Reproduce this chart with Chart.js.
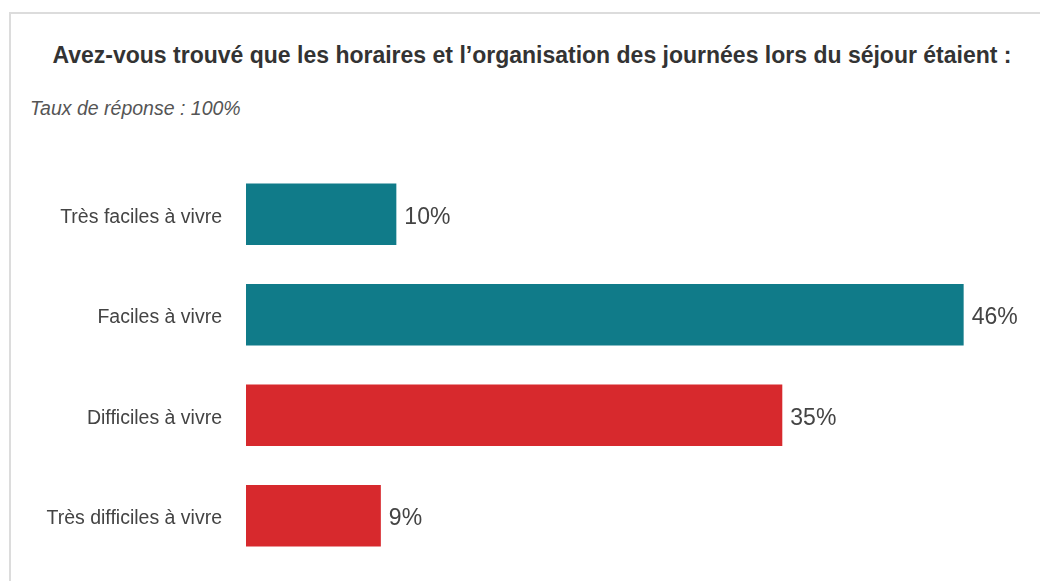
<!DOCTYPE html>
<html lang="fr">
<head>
<meta charset="utf-8">
<title>Horaires et organisation des journées</title>
<script src="https://cdn.jsdelivr.net/npm/chart.js@4/dist/chart.umd.min.js"></script>
<style>
  html, body { margin: 0; padding: 0; background: #fff; overflow: hidden; }
  body { width: 1040px; height: 581px; position: relative; font-family: "Liberation Sans", Arial, sans-serif; }
  .frame { position: absolute; left: 9px; top: 12px; width: 1100px; height: 640px; border: 2px solid #dcdcdc; box-sizing: border-box; }
  .title { position: absolute; left: 0; width: 1064px; top: 42px; text-align: center; font-weight: bold; font-size: 23px; color: #333; white-space: nowrap; }
  .subtitle { position: absolute; left: 30px; top: 97px; font-style: italic; font-size: 19.5px; color: #555; white-space: nowrap; }
  #chart { position: absolute; left: 0; top: 0; }
</style>
</head>
<body>
<div class="frame"></div>
<div class="title">Avez-vous trouvé que les horaires et l’organisation des journées lors du séjour étaient :</div>
<div class="subtitle">Taux de réponse : 100%</div>
<canvas id="chart" width="1040" height="581"></canvas>
<script>
  // réponses (part en %)
  var categories = ['Très faciles à vivre', 'Faciles à vivre', 'Difficiles à vivre', 'Très difficiles à vivre'];
  var values = [9.7, 46.3, 34.6, 8.7];
  var valueLabels = ['10%', '46%', '35%', '9%'];
  var barColors = ['#107b89', '#107b89', '#d7292d', '#d7292d'];

  var valueLabelPlugin = {
    id: 'valueLabels',
    afterDatasetsDraw: function (chart) {
      var ctx = chart.ctx;
      var meta = chart.getDatasetMeta(0);
      ctx.save();
      ctx.font = '23px "Liberation Sans", Arial, sans-serif';
      ctx.fillStyle = '#444';
      ctx.textAlign = 'left';
      ctx.textBaseline = 'middle';
      meta.data.forEach(function (bar, i) {
        ctx.fillText(valueLabels[i], bar.x + 8, bar.y + 3);
      });
      ctx.restore();
    }
  };

  new Chart(document.getElementById('chart'), {
    type: 'bar',
    data: {
      labels: categories,
      datasets: [{
        data: values,
        backgroundColor: barColors,
        borderWidth: 0,
        categoryPercentage: 1,
        barPercentage: 0.61
      }]
    },
    options: {
      indexAxis: 'y',
      responsive: false,
      animation: false,
      devicePixelRatio: 1,
      layout: { padding: { top: 164, bottom: 15, left: 0, right: 19 } },
      plugins: {
        legend: { display: false },
        tooltip: { enabled: false }
      },
      scales: {
        x: { display: false, min: 0, max: 50 },
        y: {
          grid: { display: false, drawTicks: false },
          border: { display: false },
          ticks: {
            color: '#444',
            padding: 24,
            labelOffset: 3,
            font: { family: '"Liberation Sans", Arial, sans-serif', size: 19.5 }
          },
          afterFit: function (scale) {
            scale.width = 246;
            scale.paddingTop = 0;
            scale.paddingBottom = 0;
          }
        }
      }
    },
    plugins: [valueLabelPlugin]
  });
</script>
</body>
</html>
